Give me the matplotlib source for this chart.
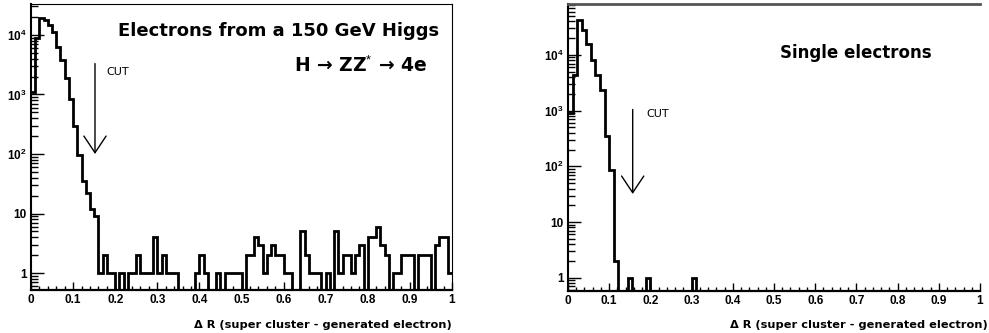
import numpy as np
import matplotlib
matplotlib.use('Agg')
import matplotlib.pyplot as plt
from matplotlib.ticker import FixedLocator, MultipleLocator, NullFormatter

plt.rcParams['font.family'] = ['Liberation Sans', 'DejaVu Sans']
plt.rcParams['mathtext.fontset'] = 'custom'
plt.rcParams['mathtext.rm'] = 'Liberation Sans'
plt.rcParams['mathtext.bf'] = 'Liberation Sans:bold'

# Delta R (super cluster - generated electron), electrons from H -> ZZ* -> 4e
higgs_edges = np.linspace(0, 1, 101)
higgs_counts = [1100, 9000, 19000, 18000, 14500, 11000, 6300, 3800, 1900, 830,
                300, 98, 35, 22, 12, 9, 1, 2, 1, 1,
                0, 1, 0, 1, 1, 2, 1, 1, 1, 4,
                1, 2, 1, 1, 1, 0, 0, 0, 0, 1,
                2, 1, 0, 0, 1, 0, 1, 1, 1, 1,
                0, 2, 2, 4, 3, 1, 2, 3, 2, 2,
                1, 1, 0, 0, 5, 2, 1, 1, 1, 0,
                1, 0, 5, 1, 2, 2, 1, 2, 3, 0,
                4, 4, 6, 3, 2, 0, 1, 1, 2, 2,
                2, 0, 2, 2, 2, 0, 3, 4, 4, 1]

# single electrons
single_edges = np.linspace(0, 1, 91)
single_counts = [900, 4400, 43000, 28000, 16000, 8100, 4400, 2300, 350, 85,
                 2, 0, 0, 1, 0, 0, 0, 1, 0, 0,
                 0, 0, 0, 0, 0, 0, 0, 1, 0, 0,
                 0, 0, 0, 0, 0, 0, 0, 0, 0, 0,
                 0, 0, 0, 0, 0, 0, 0, 0, 0, 0,
                 0, 0, 0, 0, 0, 0, 0, 0, 0, 0,
                 0, 0, 0, 0, 0, 0, 0, 0, 0, 0,
                 0, 0, 0, 0, 0, 0, 0, 0, 0, 0,
                 0, 0, 0, 0, 0, 0, 0, 0, 0, 0]

x_ticks = [0, 0.1, 0.2, 0.3, 0.4, 0.5, 0.6, 0.7, 0.8, 0.9, 1]
x_tick_labels = ['0', '0.1', '0.2', '0.3', '0.4', '0.5', '0.6', '0.7', '0.8', '0.9', '1']
y_ticks = [1, 10, 100, 1000, 10000]
y_tick_labels = ['1', '10', r'$\mathbf{10^2}$', r'$\mathbf{10^3}$', r'$\mathbf{10^4}$']
xlabel = 'Δ R (super cluster - generated electron)'
wide = ['DejaVu Sans']

W, H = 989, 333
fig = plt.figure(figsize=(W / 100, H / 100), dpi=100)


def style_axes(ax, ylim):
    ax.set_yscale('log', nonpositive='clip')
    ax.set_xlim(0, 1)
    ax.set_ylim(*ylim)
    ax.xaxis.set_major_locator(FixedLocator(x_ticks))
    ax.set_xticklabels(x_tick_labels, fontsize=8.5, fontweight='bold')
    ax.xaxis.set_minor_locator(MultipleLocator(0.02))
    ax.yaxis.set_major_locator(FixedLocator(y_ticks))
    ax.set_yticklabels(y_tick_labels, fontsize=8.5, fontweight='bold')
    minors = [m * 10 ** d for d in range(-1, 5) for m in range(2, 10)]
    ax.yaxis.set_minor_locator(FixedLocator(minors))
    ax.yaxis.set_minor_formatter(NullFormatter())
    ax.tick_params(axis='x', which='major', direction='in', length=6, width=1, pad=3)
    ax.tick_params(axis='x', which='minor', direction='in', length=3, width=1)
    ax.tick_params(axis='y', which='major', direction='in', length=9, width=1, pad=3)
    ax.tick_params(axis='y', which='minor', direction='in', length=5, width=1)
    ax.spines['left'].set_linewidth(1.5)
    ax.spines['bottom'].set_linewidth(1.6)


# left panel
ax1 = fig.add_axes([31 / W, 1 - 290 / H, 421 / W, 286 / H])
ax1.stairs(higgs_counts, higgs_edges, color='black', linewidth=2.0, baseline=None)
style_axes(ax1, (0.52, 33000))
ax1.spines['top'].set_linewidth(0.8)
ax1.spines['right'].set_linewidth(0.8)
ax1.text(0.207, 0.905, 'Electrons from a 150 GeV Higgs', transform=ax1.transAxes,
         fontsize=13, fontweight='bold', va='center', ha='left', family=wide)
ax1.text(0.783, 0.785, 'H → ZZ$^{*}$ → 4e', transform=ax1.transAxes,
         fontsize=13.5, fontweight='bold', va='center', ha='center', family=wide)
ax1.text(0.18, 2400, 'CUT', fontsize=8, va='center', ha='left', family=wide)
ax1.annotate('', xy=(0.152, 100), xytext=(0.152, 3300),
             arrowprops=dict(arrowstyle='->,head_length=0.6,head_width=0.4',
                             lw=1, color='black', mutation_scale=20,
                             shrinkA=0, shrinkB=0))
fig.text(452 / W, 1 - 325 / H, xlabel, fontsize=8.2, fontweight='bold',
         ha='right', va='center', family=wide)

# right panel
ax2 = fig.add_axes([568 / W, 1 - 291 / H, 412 / W, 287 / H])
ax2.stairs(single_counts, single_edges, color='black', linewidth=2.0, baseline=None)
style_axes(ax2, (0.58, 82000))
ax2.spines['top'].set_linewidth(2)
ax2.spines['top'].set_color('#555555')
ax2.spines['right'].set_visible(False)
ax2.text(0.515, 0.83, 'Single electrons', transform=ax2.transAxes,
         fontsize=12, fontweight='bold', va='center', ha='left', family=wide)
ax2.text(0.19, 880, 'CUT', fontsize=8, va='center', ha='left', family=wide)
ax2.annotate('', xy=(0.157, 32), xytext=(0.157, 1050),
             arrowprops=dict(arrowstyle='->,head_length=0.6,head_width=0.4',
                             lw=1, color='black', mutation_scale=20,
                             shrinkA=0, shrinkB=0))
fig.text(988 / W, 1 - 325 / H, xlabel, fontsize=8.2, fontweight='bold',
         ha='right', va='center', family=wide)

fig.savefig('out.png', dpi=100)
